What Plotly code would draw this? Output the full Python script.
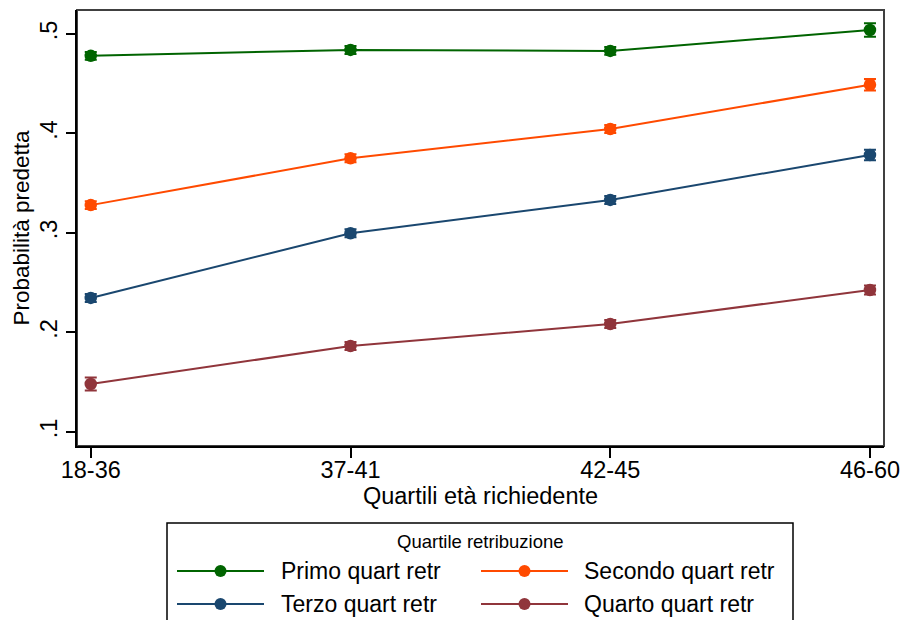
import plotly.graph_objects as go

categories = ["18-36", "37-41", "42-45", "46-60"]
series_names = ["Primo quart retr", "Secondo quart retr", "Terzo quart retr", "Quarto quart retr"]
primo = [0.478, 0.484, 0.483, 0.504]
secondo = [0.328, 0.375, 0.4045, 0.449]
terzo = [0.2347, 0.2997, 0.3332, 0.3784]
quarto = [0.1482, 0.1864, 0.2085, 0.2427]
primo_ci = [0.004, 0.004, 0.004, 0.0067]
secondo_ci = [0.004, 0.004, 0.004, 0.0057]
terzo_ci = [0.004, 0.004, 0.004, 0.0052]
quarto_ci = [0.0065, 0.004, 0.004, 0.0045]
y_ticks = [0.1, 0.2, 0.3, 0.4, 0.5]
y_ticklabels = [".1", ".2", ".3", ".4", ".5"]

colors = ["#006400", "#ff4a00", "#1a476f", "#90353b"]
values = [primo, secondo, terzo, quarto]
cis = [primo_ci, secondo_ci, terzo_ci, quarto_ci]

FONT = "Liberation Sans, Arial, sans-serif"
xs = list(range(len(categories)))

fig = go.Figure()
for name, vals, ci, col in zip(series_names, values, cis, colors):
    fig.add_trace(go.Scatter(
        x=xs, y=vals, name=name, mode="lines+markers",
        line=dict(color=col, width=2),
        marker=dict(color=col, size=12.5),
        error_y=dict(type="data", array=ci, visible=True, color=col, thickness=2, width=6),
        showlegend=False,
    ))

# plot area geometry in pixels
L, R, T, B = 77, 884, 10, 446
W, H = R - L, B - T


def px(xp):
    return (xp - L) / W


def py(yp):
    return (B - yp) / H


shapes = [
    dict(type="rect", xref="paper", yref="paper", x0=0, x1=1, y0=0, y1=1,
         line=dict(color="#404040", width=2), layer="below"),
    # legend box
    dict(type="rect", xref="paper", yref="paper", x0=px(167), x1=px(793), y0=py(523), y1=py(640),
         line=dict(color="black", width=1.5), fillcolor="white"),
]
annotations = [
    dict(text="Quartile retribuzione", xref="paper", yref="paper", x=px(480), y=py(541),
         showarrow=False, xanchor="center", yanchor="middle", font=dict(family=FONT, size=18.5, color="black")),
]
legend_pos = [(177, 264, 279, 571), (481, 568, 582, 571), (177, 264, 279, 604), (481, 568, 582, 604)]
for (x0, x1, xt, yr), name, col in zip(legend_pos, series_names, colors):
    shapes.append(dict(type="line", xref="paper", yref="paper", x0=px(x0), x1=px(x1), y0=py(yr), y1=py(yr),
                       line=dict(color=col, width=2)))
    xc = (x0 + x1) / 2
    shapes.append(dict(type="circle", xref="paper", yref="paper", x0=px(xc - 6), x1=px(xc + 6),
                       y0=py(yr + 6), y1=py(yr - 6), fillcolor=col, line=dict(color=col, width=0)))
    annotations.append(dict(text=name, xref="paper", yref="paper", x=px(xt), y=py(yr),
                            showarrow=False, xanchor="left", yanchor="middle",
                            font=dict(family=FONT, size=23, color="black")))

fig.update_layout(
    template="none",
    width=903, height=620,
    margin=dict(l=L, r=903 - R, t=T, b=620 - B, autoexpand=False),
    paper_bgcolor="white", plot_bgcolor="white",
    font=dict(family=FONT, color="black"),
    shapes=shapes, annotations=annotations,
    xaxis=dict(
        automargin=False,
        range=[-0.053, 3.054], tickvals=xs, ticktext=categories,
        showgrid=False, zeroline=False, showline=True, linecolor="black", linewidth=2,
        ticks="outside", ticklen=10, tickwidth=1.5, tickcolor="black",
        tickfont=dict(family=FONT, size=23.5), ticklabelstandoff=-8,
        title=dict(text="Quartili età richiedente", font=dict(family=FONT, size=23.5), standoff=1),
    ),
    yaxis=dict(
        automargin=False,
        range=[0.0859, 0.5241], tickvals=y_ticks, ticktext=y_ticklabels, tickangle=-90,
        showgrid=False, zeroline=False, showline=True, linecolor="black", linewidth=2,
        ticks="outside", ticklen=9, tickwidth=1.5, tickcolor="black",
        tickfont=dict(family=FONT, size=23.5),
        title=dict(text="Probabilità predetta", font=dict(family=FONT, size=22.5), standoff=0),
    ),
)

fig.write_html("out.html", config={"displayModeBar": False},
               post_script="document.body.style.margin='0';document.body.style.padding='0';")
